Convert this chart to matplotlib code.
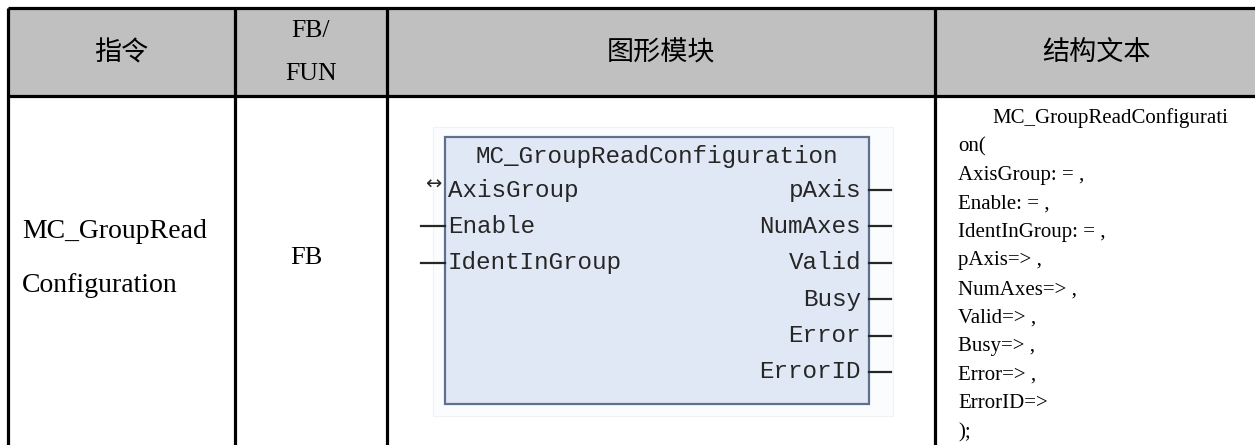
import matplotlib
matplotlib.use("Agg")
import matplotlib.pyplot as plt
from matplotlib.patches import Rectangle

# ---------------- data ----------------
header_labels = ["指令", "FB/\nFUN", "图形模块", "结构文本"]
instruction_name = ["MC_GroupRead", "Configuration"]
fb_type = "FB"
block_title = "MC_GroupReadConfiguration"
block_inputs = ["AxisGroup", "Enable", "IdentInGroup"]
block_outputs = ["pAxis", "NumAxes", "Valid", "Busy", "Error", "ErrorID"]
st_first_line = "MC_GroupReadConfigurati"
st_lines = ["on(", "AxisGroup: = ,", "Enable: = ,", "IdentInGroup: = ,",
            "pAxis=> ,", "NumAxes=> ,", "Valid=> ,", "Busy=> ,",
            "Error=> ,", "ErrorID=>", ");"]

# ---------------- layout ----------------
W, H = 1255, 445
fig = plt.figure(figsize=(W / 100, H / 100), dpi=100)
ax = fig.add_axes([0, 0, 1, 1])
ax.set_xlim(0, W)
ax.set_ylim(H, 0)
ax.axis("off")

col_x = [8, 235, 387, 935, 1262]
top_y, head_y = 8, 96
lw_table = 2.3

# header background
ax.add_patch(Rectangle((col_x[0], top_y), col_x[-1] - col_x[0], head_y - top_y,
                       facecolor="#C0C0C0", edgecolor="none", zorder=0))
# table lines
ax.plot([col_x[0], W + 10], [top_y, top_y], color="black", lw=lw_table, solid_capstyle="butt")
ax.plot([col_x[0], W + 10], [head_y, head_y], color="black", lw=lw_table, solid_capstyle="butt")
for x in col_x[:-1]:
    ax.plot([x, x], [top_y, H + 5], color="black", lw=lw_table, solid_capstyle="butt")

cjk = ["Noto Sans CJK SC", "DejaVu Sans"]
# header texts
centers = [(col_x[i] + col_x[i + 1]) / 2 for i in range(4)]
centers[3] = 1096
for i, lab in enumerate(header_labels):
    if "\n" in lab:
        l1, l2 = lab.split("\n")
        ax.text(centers[i], 31, l1, ha="center", va="center", fontsize=18.5,
                family=["Liberation Serif"], color="black")
        ax.text(centers[i], 74, l2, ha="center", va="center", fontsize=18.5,
                family=["Liberation Serif"], color="black")
    else:
        ax.text(centers[i], 53, lab, ha="center", va="center", fontsize=19.5,
                family=cjk, weight="medium", color="black")

# column 1 & 2 body
ax.text(22, 232, instruction_name[0], ha="left", va="center", fontsize=20,
        family=["Liberation Serif"], color="black")
ax.text(22, 285, instruction_name[1], ha="left", va="center", fontsize=20,
        family=["Liberation Serif"], color="black")
ax.text(centers[1] - 5, 258, fb_type, ha="center", va="center", fontsize=19,
        family=["Liberation Serif"], color="black")

# function block graphic
bx0, bx1, by0, by1 = 445, 869, 137, 404
ax.add_patch(Rectangle((bx0 - 12, by0 - 10), (bx1 - bx0) + 36, (by1 - by0) + 22,
                       facecolor="#FBFCFE", edgecolor="#F0F2F6", lw=0.8, zorder=1))
ax.add_patch(Rectangle((bx0, by0), bx1 - bx0, by1 - by0, facecolor="#E1E8F5",
                       edgecolor="#5F6F8E", lw=1.6, zorder=2))
mono = ["Liberation Mono"]
tcol = "#262626"
ax.text((bx0 + bx1) / 2, 157, block_title, ha="center", va="center", fontsize=17.5,
        family=mono, color=tcol, zorder=3)
row0, dy = 190, 36.4
for i, name in enumerate(block_inputs):
    y = row0 + i * dy
    ax.text(448, y, name, ha="left", va="center", fontsize=17.5, family=mono,
            color=tcol, zorder=3)
    if i == 0:
        ax.text(433, y - 6, "↔", ha="center", va="center", fontsize=14,
                family=["DejaVu Sans"], color=tcol, zorder=3)
    else:
        ax.plot([421, bx0], [y, y], color=tcol, lw=1.6, zorder=3)
for i, name in enumerate(block_outputs):
    y = row0 + i * dy
    ax.text(861, y, name, ha="right", va="center", fontsize=17.5, family=mono,
            color=tcol, zorder=3)
    ax.plot([bx1, 891], [y, y], color=tcol, lw=1.6, zorder=3)

# structured text column
st_font = ["Liberation Serif"]
st_y0, st_dy = 118, 28.6
ax.text(992, st_y0, st_first_line, ha="left", va="center", fontsize=15,
        family=st_font, color="black")
for i, line in enumerate(st_lines):
    ax.text(958, st_y0 + (i + 1) * st_dy, line, ha="left", va="center", fontsize=15,
            family=st_font, color="black")

fig.savefig("out.png", dpi=100, facecolor="white")
